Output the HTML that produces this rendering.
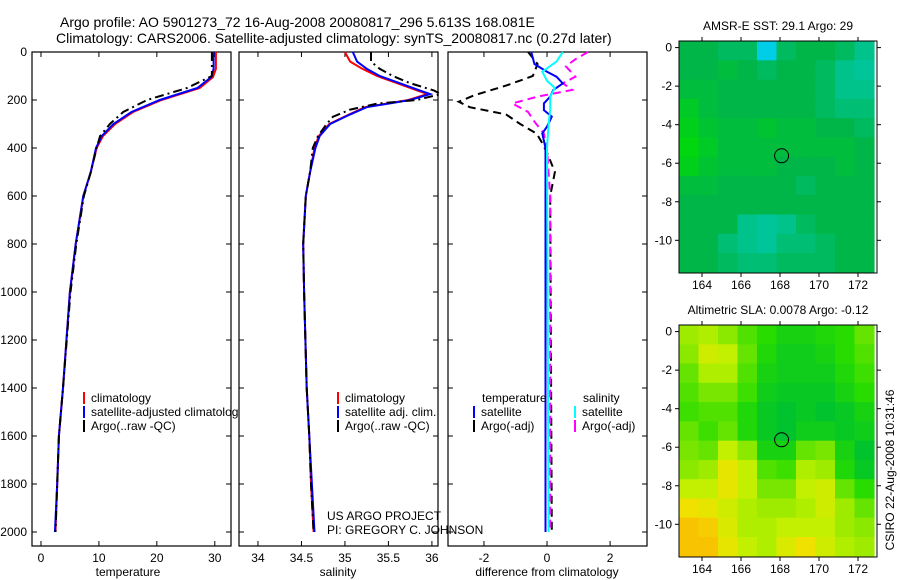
<!DOCTYPE html>
<html><head><meta charset="utf-8"><style>
html,body{margin:0;padding:0;background:#fff;}
svg{display:block;font-family:"Liberation Sans",sans-serif;}
</style></head><body>
<svg id="fig" width="900" height="580" viewBox="0 0 900 580" xmlns="http://www.w3.org/2000/svg">
<rect x="0" y="0" width="900" height="580" fill="#fff"/>
<text x="60" y="27" font-size="14">Argo profile: AO 5901273_72 16-Aug-2008 20080817_296 5.613S 168.081E</text>
<text x="56" y="43" font-size="14">Climatology: CARS2006. Satellite-adjusted climatology: synTS_20080817.nc (0.27d later)</text>
<g id="g"></g>
</svg>
<script>
// ---- data ----
var depthTicks=[0,200,400,600,800,1000,1200,1400,1600,1800,2000];
var tempTicks=[0,10,20,30];
var salTicks=[34,34.5,35,35.5,36];
var salTickLabels=["34","34.5","35","35.5","36"];
var diffTicks=[-2,0,2];
var tClimD=[0,70,104,150,200,250,300,350,400,500,600,800,1000,1400,1600,1800,2000];
var tClimV=[30.2,30.2,29.7,27.4,20.8,15.9,12.8,10.7,9.6,8.6,7.3,6.0,5.0,3.8,3.1,2.8,2.5];
var tSatV=[29.8,29.8,29.4,27.0,20.5,15.6,12.5,10.5,9.5,8.6,7.3,6.0,5.0,3.8,3.1,2.8,2.4];
var tArgoD=[0,100,150,200,250,300,350,400,500,600,800,1000,1400,1600,1800,2000];
var tArgoV=[29.5,29.5,25.2,18.3,14.2,11.9,10.2,9.6,8.6,7.4,6.1,5.1,3.8,3.1,2.8,2.5];
var sClimD=[0,40,70,100,130,160,175,200,230,260,300,350,400,500,600,800,1000,1400,1600,1800,2000];
var sClimV=[35.0,35.06,35.2,35.37,35.6,35.83,35.95,35.73,35.23,35.05,34.82,34.7,34.65,34.6,34.55,34.52,34.53,34.56,34.59,34.61,34.64];
var sSatV=[35.09,35.14,35.25,35.4,35.63,35.86,35.98,35.75,35.25,35.06,34.83,34.71,34.66,34.6,34.55,34.52,34.53,34.56,34.59,34.62,34.65];
var sArgoD=[0,40,70,100,130,160,175,200,215,240,270,300,350,400,500,600,800,1000,1400,1600,1800,2000];
var sArgoV=[35.3,35.3,35.4,35.55,35.75,36.02,36.1,35.83,35.37,35.06,34.86,34.79,34.69,34.63,34.6,34.55,34.52,34.53,34.56,34.59,34.61,34.64];
var dTSatD=[0,50,82,103,131,158,186,214,242,269,311,339,400,2000];
var dTSatV=[-0.5,-0.4,0,0.3,0.5,0.2,0.1,-0.1,-0.1,0.15,0,-0.15,-0.05,-0.05];
var dSSatD=[0,40,82,120,150,186,242,300,400,2000];
var dSSatV=[0.5,0.3,-0.15,0,0.25,0.1,0.1,0.05,0,0.05];
var dTArgoD=[0,50,100,140,180,207,230,260,300,340,380,420,500,600,2000];
var dTArgoV=[-0.6,-0.3,-0.45,-1.3,-2.3,-2.8,-2.45,-1.3,-0.85,-0.33,-0.15,0,0.25,0.1,0.15];
var dSArgoD=[0,30,60,103,130,158,186,214,250,290,340,400,600,2000];
var dSArgoV=[1.3,0.9,0.6,0.9,0.5,0.8,-0.3,-1.1,-0.6,-0.4,-0.1,0,0.1,0.1];
var lonTicks=[164,166,168,170,172];
var latTicks=[0,-2,-4,-6,-8,-10];
var gridLon0=162.82;
var gridLat0=0.34;
var sstGrid=[
[29.05,29.05,29.0,29.0,28.6,29.0,29.05,29.05,29.0,28.9],
[29.05,29.05,29.1,29.05,29.0,29.05,29.05,29.0,28.9,28.85],
[29.1,29.1,29.05,29.05,29.05,29.05,29.05,29.0,28.9,28.9],
[29.2,29.1,29.05,29.05,29.05,29.05,29.05,29.0,28.95,28.95],
[29.25,29.15,29.1,29.1,29.15,29.1,29.1,29.05,29.05,29.0],
[29.3,29.2,29.1,29.1,29.1,29.1,29.1,29.1,29.1,29.05],
[29.25,29.15,29.1,29.1,29.1,29.05,29.05,29.05,29.1,29.05],
[29.1,29.1,29.05,29.05,29.05,29.05,29.0,29.05,29.05,29.05],
[29.05,29.05,29.05,29.05,29.05,29.05,29.05,29.05,29.05,29.05],
[29.05,29.05,29.05,28.9,28.85,28.9,29.0,29.05,29.05,29.05],
[29.05,29.05,28.95,28.9,28.85,28.95,28.95,29.0,29.05,29.05],
[29.05,29.05,29.0,28.95,28.95,29.0,29.0,29.0,29.05,29.05]];
var slaGrid=[
[0.06,0.07,0.05,0.02,0.0,-0.02,-0.02,-0.01,0.0,0.03],
[0.05,0.09,0.08,0.03,-0.01,-0.03,-0.03,-0.02,0.0,0.02],
[0.03,0.07,0.07,0.02,-0.02,-0.03,-0.03,-0.03,-0.01,0.01],
[0.02,0.04,0.04,0.01,-0.03,-0.04,-0.04,-0.04,-0.02,0.0],
[0.01,0.02,0.02,-0.01,-0.04,-0.05,-0.04,-0.05,-0.04,-0.02],
[0.03,0.01,0.03,-0.01,-0.04,-0.05,-0.03,-0.03,-0.04,-0.03],
[0.04,0.03,0.08,0.05,-0.02,-0.02,0.03,0.04,-0.02,-0.05],
[0.05,0.06,0.11,0.08,0.02,0.01,0.07,0.06,-0.01,-0.04],
[0.08,0.08,0.11,0.08,0.04,0.04,0.08,0.09,0.03,0.0],
[0.12,0.11,0.09,0.07,0.06,0.06,0.07,0.09,0.06,0.03],
[0.15,0.14,0.1,0.07,0.07,0.08,0.08,0.08,0.06,0.05],
[0.15,0.15,0.11,0.08,0.07,0.1,0.12,0.09,0.07,0.06]];
var argoLon=168.081, argoLat=-5.613;

// ---- helpers ----
var NS="http://www.w3.org/2000/svg";
var G=document.getElementById('g');
function mk(t,a,p){var e=document.createElementNS(NS,t);for(var k in a)e.setAttribute(k,a[k]);(p||G).appendChild(e);return e;}
function txt(x,y,s,size,anchor,p){var e=mk('text',{x:x,y:y,'font-size':size,'text-anchor':anchor||'start'},p);e.textContent=s;return e;}
var PT=52,PB=546,dScale=0.24;
function yD(d){return PT+d*dScale;}
function panel(x0,x1,xmin,xmax){return {x0:x0,x1:x1,f:function(v){return x0+(v-xmin)/(xmax-xmin)*(x1-x0);}};}
var P1=panel(32,231,-1.55,32.8), P2=panel(239,438,33.782,36.07), P3=panel(448,647,-3.14,3.17);
function frame(P,name,ticks,labels){
  var r=mk('rect',{x:P.x0,y:PT,width:P.x1-P.x0,height:PB-PT,fill:'#fff',stroke:'#000','stroke-width':1.2});
  
  
  ticks.forEach(function(t,i){var x=P.f(t);
    mk('line',{x1:x,x2:x,y1:PB,y2:PB-5,stroke:'#000'});mk('line',{x1:x,x2:x,y1:PT,y2:PT+5,stroke:'#000'});
    var l=txt(x,562,labels[i],12,'middle');
    
    });
  depthTicks.forEach(function(d){var y=yD(d);mk('line',{x1:P.x0,x2:P.x0+5,y1:y,y2:y,stroke:'#000'});mk('line',{x1:P.x1,x2:P.x1-5,y1:y,y2:y,stroke:'#000'});});
}
function line(P,D,V,color,dash,name){
  var pts=D.map(function(d,i){return P.f(V[i]).toFixed(1)+','+yD(d).toFixed(1);}).join(' ');
  var a={points:pts,fill:'none',stroke:color,'stroke-width':2};
  if(dash)a['stroke-dasharray']=dash;
  var e=mk('polyline',a);
  
  
}
function legend(x,y,items){items.forEach(function(it,i){var yy=y+i*14;
  mk('rect',{x:x,y:yy-10,width:2,height:12,fill:it[0]});
  var t=txt(x+8,yy,it[1],12);
  
  });}

// Panel 1
frame(P1,'temperature-axes',tempTicks,tempTicks.map(String));
depthTicks.forEach(function(d){var t=txt(27,yD(d)+4,String(d),12,'end');
  
  });
line(P1,tClimD,tClimV,'#f00',null,'temp-climatology-line');
line(P1,tClimD,tSatV,'#00f',null,'temp-satellite-line');
line(P1,tArgoD,tArgoV,'#000','9,4,2,4','temp-argo-line');
legend(83,402,[['#f00','climatology'],['#00f','satellite-adjusted climatology'],['#000','Argo(..raw -QC)']]);
// Panel 2
frame(P2,'salinity-axes',salTicks,salTickLabels);
line(P2,sClimD,sClimV,'#f00',null,'sal-climatology-line');
line(P2,sClimD,sSatV,'#00f',null,'sal-satellite-line');
line(P2,sArgoD,sArgoV,'#000','9,4,2,4','sal-argo-line');
legend(337,402,[['#f00','climatology'],['#00f','satellite adj. clim.'],['#000','Argo(..raw -QC)']]);
// Panel 3
frame(P3,'difference-axes',diffTicks,diffTicks.map(String));
line(P3,dTArgoD,dTArgoV,'#000','8,5','diff-temp-argo-line');
line(P3,dSArgoD,dSArgoV,'#f0f','8,5','diff-sal-argo-line');
line(P3,dTSatD,dTSatV,'#00f',null,'diff-temp-satellite-line');
line(P3,dSSatD,dSSatV,'#0ff',null,'diff-sal-satellite-line');
txt(482,402,'temperature',12);txt(583,402,'salinity',12);
legend(473,416,[['#00f','satellite'],['#000','Argo(-adj)']]);
legend(574,416,[['#0ff','satellite'],['#f0f','Argo(-adj)']]);
txt(327,520,'US ARGO PROJECT',12);txt(327,534,'PI: GREGORY C. JOHNSON',12);
var xl=[['temperature',128],['salinity',338],['difference from climatology',547]];
xl.forEach(function(a){var t=txt(a[1],576,a[0],12,'middle');
  
  });

// Maps
function lerpC(stops,v){if(v<=stops[0][0])return stops[0][1];
  for(var i=1;i<stops.length;i++){if(v<=stops[i][0]){var a=stops[i-1],b=stops[i],t=(v-a[0])/(b[0]-a[0]);
    return 'rgb('+[0,1,2].map(function(k){return Math.round(a[1][k]+t*(b[1][k]-a[1][k]));}).join(',')+')';}}
  return stops[stops.length-1][1];}
function arr2(c){return typeof c==='string'?c:'rgb('+c.join(',')+')';}
var sstStops=[[28.6,[0,205,230]],[28.9,[0,195,140]],[29.05,[0,182,72]],[29.3,[0,215,15]]];
var slaStops=[[-0.05,[0,195,45]],[0,[40,220,0]],[0.04,[120,230,0]],[0.08,[195,240,0]],[0.12,[240,225,0]],[0.16,[250,185,0]]];
function map(top,grid,stops,name,title){
  var x0=679,x1=877,y0=top,lat0=top+6.6,ppy=19.27,ppx=19.5,y1=top+232;
  function fx(lon){return 702+(lon-164)*ppx;} function fy(lat){return lat0-lat*ppy;}
  var t=txt(778,top-11,title,12,'middle');
  
  
  var cg=mk('g',{'clip-path':'url(#clip-'+name+')'});
  var cp=mk('clipPath',{id:'clip-'+name});mk('rect',{x:x0,y:y0,width:x1-x0,height:y1-y0},cp);
  grid.forEach(function(row,r){row.forEach(function(v,c){
    var lonA=gridLon0+c,latA=gridLat0-r;
    var cell=mk('rect',{x:fx(lonA),y:fy(latA),width:ppx+0.6,height:ppy+0.6,fill:arr2(lerpC(stops,v))},cg);
    
    });});
  var b=mk('rect',{x:x0,y:y0,width:x1-x0,height:y1-y0,fill:'none',stroke:'#000'});
  
  
  lonTicks.forEach(function(l){var x=fx(l);mk('line',{x1:x,x2:x,y1:y1,y2:y1+4,stroke:'#000'});mk('line',{x1:x,x2:x,y1:y0,y2:y0-4,stroke:'#000'});
    txt(x,y1+16,String(l),12,'middle');});
  latTicks.forEach(function(l){var y=fy(l);mk('line',{x1:x0,x2:x0-4,y1:y,y2:y,stroke:'#000'});mk('line',{x1:x1,x2:x1+4,y1:y,y2:y,stroke:'#000'});
    txt(x0-7,y+4,String(l),12,'end');});
  var c=mk('circle',{cx:fx(argoLon),cy:fy(argoLat),r:7,fill:'none',stroke:'#000','stroke-width':1});
  
  
}
map(41,sstGrid,sstStops,'sst-map','AMSR-E SST: 29.1 Argo: 29');
map(325,slaGrid,slaStops,'sla-map','Altimetric SLA: 0.0078 Argo: -0.12');
var cs=txt(0,0,'CSIRO 22-Aug-2008 10:31:46',12,'middle');
cs.setAttribute('transform','translate(894,470) rotate(-90)');


</script>
</body></html>
